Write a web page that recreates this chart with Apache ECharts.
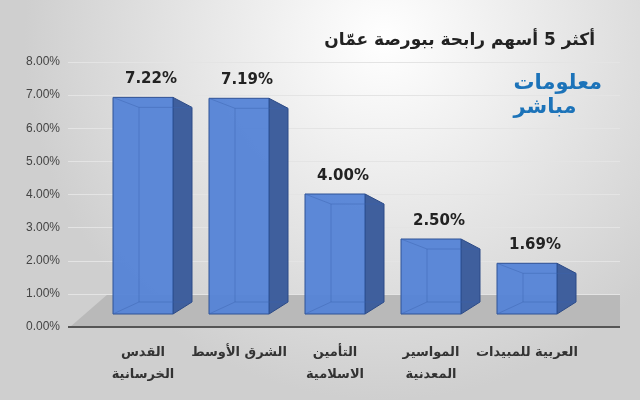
<!DOCTYPE html>
<html>
<head>
<meta charset="utf-8">
<script src="https://cdn.jsdelivr.net/npm/echarts@6/dist/echarts.min.js"></script>
<style>html,body{margin:0;padding:0;}#main{width:640px;height:400px;}</style>
</head>
<body>
<div id="main"></div>
<script>
// data
var categories = ['القدس\nالخرسانية', 'الشرق الأوسط', 'التأمين\nالاسلامية', 'المواسير\nالمعدنية', 'العربية للمبيدات'];
var values = [7.22, 7.19, 4.00, 2.50, 1.69];
var yTicks = [0, 1, 2, 3, 4, 5, 6, 7, 8];

var chart = echarts.init(document.getElementById('main'));

function renderBar(params, api) {
  var top = api.coord([api.value(0), api.value(1)]);
  var base = api.coord([api.value(0), 0]);
  var w = 60, dx = 19, dyT = 10, dyB = -12;
  var x0 = top[0] - w / 2, x1 = top[0] + w / 2;
  var yt = top[1], yb = base[1];
  var inner = 'rgba(60,100,175,0.45)';
  return {
    type: 'group',
    children: [
      { type: 'polygon', shape: { points: [[x1, yt], [x1 + dx, yt + dyT], [x1 + dx, yb + dyB], [x1, yb]] },
        style: { fill: '#3f5f9d', stroke: '#2c4a86', lineWidth: 1 } },
      { type: 'rect', shape: { x: x0, y: yt, width: w, height: yb - yt },
        style: { fill: 'rgba(86,132,214,0.96)', stroke: '#2f5296', lineWidth: 1 } },
      { type: 'polyline', shape: { points: [[x0, yt], [x0 + 26, yt + dyT], [x0 + 26, yb + dyB], [x0, yb]] },
        style: { fill: null, stroke: inner, lineWidth: 1 } },
      { type: 'line', shape: { x1: x0 + 26, y1: yt + dyT, x2: x1 + dx, y2: yt + dyT },
        style: { stroke: inner, lineWidth: 1 } },
      { type: 'line', shape: { x1: x0 + 26, y1: yb + dyB, x2: x1 + dx, y2: yb + dyB },
        style: { stroke: inner, lineWidth: 1 } },
      { type: 'text', style: { x: top[0] + 8, y: yt - 18, text: api.value(1).toFixed(2) + '%',
        fill: '#222', font: 'bold 15px "DejaVu Sans"', align: 'center', verticalAlign: 'middle' } }
    ]
  };
}

var option = {
  backgroundColor: {
    type: 'radial', x: 0.6, y: 0.1, r: 0.9,
    colorStops: [{ offset: 0, color: '#ffffff' }, { offset: 1, color: '#cfcfcf' }]
  },
  graphic: [
    { type: 'polygon', z: 0, shape: { points: [[70, 327], [620, 327], [620, 294], [108, 294]] },
      style: { fill: '#b9b9b9' } },
    { type: 'line', z: 1, shape: { x1: 68, y1: 327, x2: 620, y2: 327 }, style: { stroke: '#555', lineWidth: 2 } },
    { type: 'text', right: 45, top: 32, style: { text: 'أكثر 5 أسهم رابحة ببورصة عمّان', fill: '#222',
      font: 'bold 17px "DejaVu Sans"' } },
    { type: 'text', right: 38, top: 72, style: { text: 'معلومات\nمباشر', fill: '#1c73b9',
      font: 'bold 21px "DejaVu Sans"', lineHeight: 24, align: 'center' } }
  ],
  grid: [
    { left: 68, right: 20, top: 62, bottom: 73 },
    { left: 95, right: 65, top: 74, bottom: 86 }
  ],
  xAxis: [
    { gridIndex: 0, type: 'value', show: false },
    { gridIndex: 1, type: 'category', data: categories,
      axisLine: { show: false }, axisTick: { show: false },
      axisLabel: { interval: 0, margin: 28, color: '#333', fontWeight: 'bold', fontSize: 13, lineHeight: 22, fontFamily: 'DejaVu Sans' } }
  ],
  yAxis: [
    { gridIndex: 0, type: 'value', min: yTicks[0], max: yTicks[yTicks.length - 1], interval: 1,
      axisLine: { show: false }, axisTick: { show: false },
      axisLabel: { color: '#444', fontSize: 12, formatter: function (v) { return v.toFixed(2) + '%'; } },
      splitLine: { lineStyle: { color: '#e4e4e4' } } },
    { gridIndex: 1, type: 'value', min: 0, max: 8, show: false }
  ],
  series: [{
    type: 'custom', xAxisIndex: 1, yAxisIndex: 1, z: 5,
    renderItem: renderBar,
    data: values.map(function (v, i) { return [i, v]; })
  }]
};
chart.setOption(option);
</script>
</body>
</html>
